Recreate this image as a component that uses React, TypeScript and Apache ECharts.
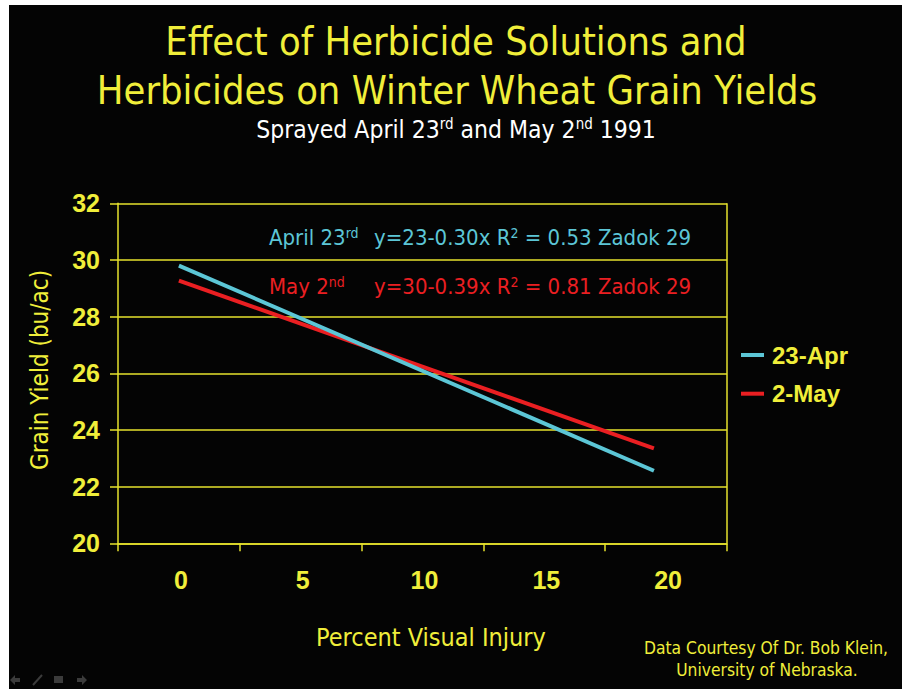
import React, { useEffect, useRef } from "react";
import * as echarts from "echarts";

const categories = ["0", "5", "10", "15", "20"];
const injury = [0, 19.5];
const aprilYield = [29.8, 22.56];
const mayYield = [29.27, 23.35];
const seriesNames = ["23-Apr", "2-May"];

const YELLOW = "#f0ee3a";
const GRID = "#e6e22c";
const CYAN = "#5cc6d6";
const RED = "#ea1f22";
const TITLE_FONT = "'DejaVu Sans Condensed', 'DejaVu Sans', sans-serif";
const AXIS_FONT = "'Liberation Sans', Arial, sans-serif";

export default function App() {
  const ref = useRef<HTMLDivElement>(null);
  useEffect(() => {
    if (!ref.current) return;
    const chart = echarts.init(ref.current, null, { renderer: "svg" });
    const supRich = (color: string, size: number, sup: number) => ({
      n: { fontFamily: TITLE_FONT, fontSize: size, fill: color, color },
      s: { fontFamily: TITLE_FONT, fontSize: sup, fill: color, color, verticalAlign: "top" as const },
    });
    const nav = "#3b3b3b";
    chart.setOption({
      animation: false,
      backgroundColor: "transparent",
      grid: { left: 118, top: 203.3, width: 609, height: 340, containLabel: false },
      legend: {
        orient: "vertical",
        left: 736,
        top: 338,
        itemWidth: 23,
        itemHeight: 4,
        itemGap: 14.7,
        icon: "rect",
        data: seriesNames,
        textStyle: {
          color: YELLOW,
          fontFamily: AXIS_FONT,
          fontWeight: "bold",
          fontSize: 24,
          lineHeight: 24,
          padding: [0, 0, 0, 3],
        },
      },
      xAxis: [
        {
          type: "category",
          data: categories,
          boundaryGap: true,
          axisLine: { lineStyle: { color: GRID, width: 1.5 } },
          axisTick: { show: true, length: 8, lineStyle: { color: GRID, width: 1.5 } },
          axisLabel: {
            color: YELLOW,
            fontFamily: AXIS_FONT,
            fontWeight: "bold",
            fontSize: 25,
            margin: 24,
            padding: [0, 0, 0, 4],
          },
          splitLine: { show: false },
        },
        { type: "value", min: -2.5, max: 22.5, show: false },
      ],
      yAxis: {
        type: "value",
        min: 20,
        max: 32,
        interval: 2,
        axisLine: { show: true, onZero: false, lineStyle: { color: GRID, width: 1.5 } },
        axisTick: { show: true, length: 8, lineStyle: { color: GRID, width: 1.5 } },
        axisLabel: {
          color: YELLOW,
          fontFamily: AXIS_FONT,
          fontWeight: "bold",
          fontSize: 25,
          margin: 18,
        },
        splitLine: { show: true, lineStyle: { color: GRID, width: 1.5 } },
      },
      series: [
        {
          name: seriesNames[0],
          type: "line",
          xAxisIndex: 1,
          data: injury.map((x, i) => [x, aprilYield[i]]),
          showSymbol: false,
          symbol: "none",
          lineStyle: { color: CYAN, width: 4 },
          itemStyle: { color: CYAN },
          z: 3,
        },
        {
          name: seriesNames[1],
          type: "line",
          xAxisIndex: 1,
          data: injury.map((x, i) => [x, mayYield[i]]),
          showSymbol: false,
          symbol: "none",
          lineStyle: { color: RED, width: 4 },
          itemStyle: { color: RED },
          z: 2,
        },
      ],
      graphic: [
        { type: "rect", z: -10, shape: { x: 9, y: 5, width: 893, height: 684 }, style: { fill: "#040404" } },
        { type: "line", shape: { x1: 727, y1: 203.3, x2: 727, y2: 543.3 }, style: { stroke: GRID, lineWidth: 1.5 } },
        {
          type: "text",
          x: 456,
          y: 41,
          style: { text: "Effect of Herbicide Solutions and", fill: YELLOW, font: `39.5px ${TITLE_FONT}`, textAlign: "center", textVerticalAlign: "middle" },
        },
        {
          type: "text",
          x: 457,
          y: 90,
          style: { text: "Herbicides on Winter Wheat Grain Yields", fill: YELLOW, font: `39.5px ${TITLE_FONT}`, textAlign: "center", textVerticalAlign: "middle" },
        },
        {
          type: "text",
          x: 456,
          y: 129,
          style: {
            text: "{n|Sprayed April 23}{s|rd}{n| and May 2}{s|nd}{n| 1991}",
            rich: supRich("#ffffff", 24.5, 15),
            fill: "#ffffff",
            textAlign: "center",
            textVerticalAlign: "middle",
          },
        },
        {
          type: "text",
          x: 269,
          y: 237,
          style: { text: "{n|April 23}{s|rd}", rich: supRich(CYAN, 22, 14), fill: CYAN, textVerticalAlign: "middle" },
        },
        {
          type: "text",
          x: 374,
          y: 237,
          style: { text: "{n|y=23-0.30x R}{s|2}{n| = 0.53 Zadok 29}", rich: supRich(CYAN, 22, 14), fill: CYAN, textVerticalAlign: "middle" },
        },
        {
          type: "text",
          x: 269,
          y: 286,
          style: { text: "{n|May 2}{s|nd}", rich: supRich(RED, 22, 14), fill: RED, textVerticalAlign: "middle" },
        },
        {
          type: "text",
          x: 374,
          y: 286,
          style: { text: "{n|y=30-0.39x R}{s|2}{n| = 0.81 Zadok 29}", rich: supRich(RED, 22, 14), fill: RED, textVerticalAlign: "middle" },
        },
        {
          type: "text",
          x: 40,
          y: 370,
          rotation: Math.PI / 2,
          style: { text: "Grain Yield (bu/ac)", fill: YELLOW, font: `24px ${TITLE_FONT}`, textAlign: "center", textVerticalAlign: "middle" },
        },
        {
          type: "text",
          x: 431,
          y: 637,
          style: { text: "Percent Visual Injury", fill: YELLOW, font: `25px ${TITLE_FONT}`, textAlign: "center", textVerticalAlign: "middle" },
        },
        {
          type: "text",
          x: 766,
          y: 648,
          style: { text: "Data Courtesy Of Dr. Bob Klein,", fill: YELLOW, font: `17.3px ${TITLE_FONT}`, textAlign: "center", textVerticalAlign: "middle" },
        },
        {
          type: "text",
          x: 767,
          y: 670,
          style: { text: "University of Nebraska.", fill: YELLOW, font: `17.3px ${TITLE_FONT}`, textAlign: "center", textVerticalAlign: "middle" },
        },
        { type: "polygon", shape: { points: [[10, 680], [15, 675], [15, 678], [20, 678], [20, 682], [15, 682], [15, 685]] }, style: { fill: nav } },
        { type: "line", shape: { x1: 33, y1: 685, x2: 42, y2: 675 }, style: { stroke: nav, lineWidth: 2 } },
        { type: "rect", shape: { x: 54, y: 676, width: 9, height: 7 }, style: { fill: nav } },
        { type: "polygon", shape: { points: [[87, 680], [82, 675], [82, 678], [77, 678], [77, 682], [82, 682], [82, 685]] }, style: { fill: nav } },
      ],
    });
    return () => chart.dispose();
  }, []);
  return <div ref={ref} style={{ position: "absolute", left: 0, top: 0, width: 902, height: 689 }} />;
}
